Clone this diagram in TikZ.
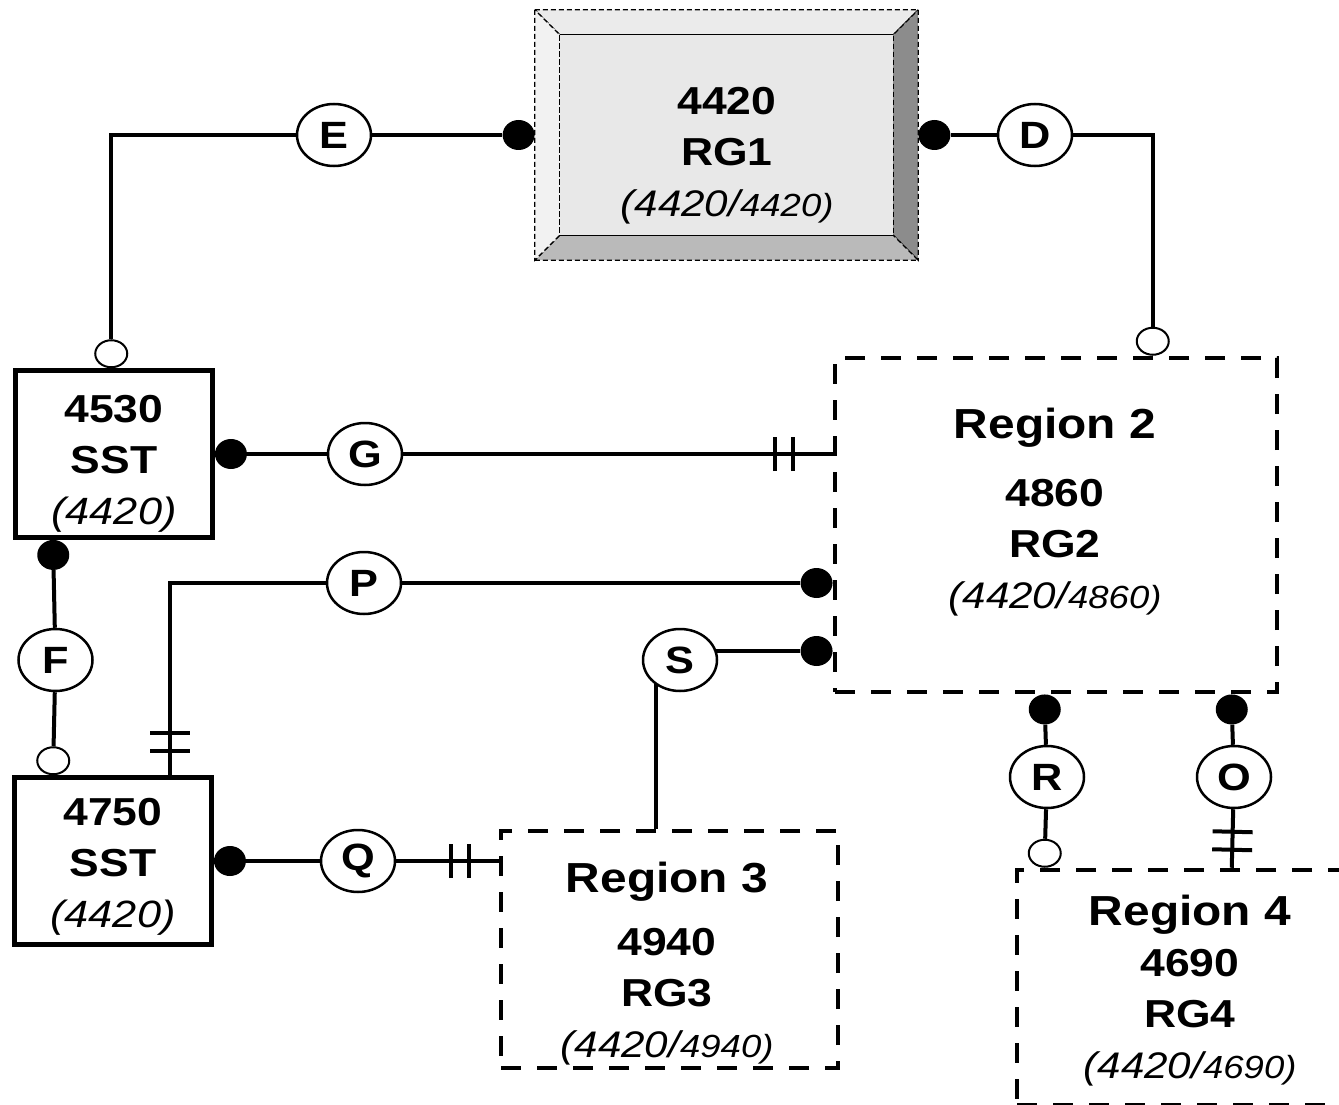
\documentclass[tikz,border=0pt]{standalone}
\usepackage{fontspec}
\setmainfont{Liberation Sans}[FakeStretch=1.14]
\usetikzlibrary{shapes.geometric,calc,backgrounds,decorations.markings}

\newcommand{\rgpair}[1]{{\mdseries\itshape\fontsize{37}{51}\selectfont(4420/{\fontsize{32}{51}\selectfont#1)}}}

\begin{document}
\begin{tikzpicture}[
    x=1pt, y=-1pt,
    link/.style={line width=4pt},
    bars/.style n args={3}{postaction={decorate, decoration={markings,
        mark=at position -#1 with {\draw[line width=4pt] (0pt,-#3) -- (0pt,#3);},
        mark=at position -#2 with {\draw[line width=4pt] (0pt,-#3) -- (0pt,#3);}}}},
    sstbox/.style={rectangle, draw, line width=4.5pt, minimum width=197, minimum height=167, inner sep=0},
    regionbox/.style={rectangle, draw, line width=4.5pt, dash pattern=on 20pt off 16pt},
    regiontext/.style={anchor=north, inner sep=0, align=center, font=\fontsize{39}{51}\selectfont\bfseries},
    bevelbox/.style={rectangle, minimum width=383, minimum height=250, inner sep=0},
    bevel/.style={draw, line width=1.2pt, dash pattern=on 5pt off 3pt},
    tag/.style={ellipse, draw, line width=2.5pt, fill=white, minimum width=74, minimum height=62, inner sep=0, font=\fontsize{38}{40}\selectfont\bfseries},
    dot/.style={ellipse, fill=black, minimum width=32, minimum height=30, inner sep=0},
    hollow/.style={ellipse, draw, line width=2pt, fill=white, minimum width=32, minimum height=27, inner sep=0}
]
\useasboundingbox (0,0) rectangle (1339,1105);

% Nodes
\node[bevelbox] (rg1) at (726.5,135) {};
\coordinate (in1) at ($(rg1.north west)+(25,25)$);
\coordinate (in2) at ($(rg1.north east)+(-25,25)$);
\coordinate (in3) at ($(rg1.south east)+(-25,-25)$);
\coordinate (in4) at ($(rg1.south west)+(25,-25)$);
\filldraw[bevel, fill=black!8] (rg1.north west) -- (rg1.north east) -- (in2) -- (in1) -- cycle;
\filldraw[bevel, fill=black!45] (rg1.north east) -- (rg1.south east) -- (in3) -- (in2) -- cycle;
\filldraw[bevel, fill=black!27] (rg1.south west) -- (rg1.south east) -- (in3) -- (in4) -- cycle;
\filldraw[bevel, fill=black!5] (rg1.north west) -- (rg1.south west) -- (in4) -- (in1) -- cycle;
\filldraw[bevel, fill=black!9] (in1) rectangle (in3);
\node[regiontext] (rg1txt) at (727,87) {4420\\RG1\\\rgpair{4420}};

\node[sstbox] (s1) at (114,454) {};
\node[regiontext] (s1txt) at (114,395) {4530\\SST\\{\mdseries\itshape\fontsize{38}{51}\selectfont(4420)}};
\node[sstbox] (s2) at (113,861) {};
\node[regiontext] (s2txt) at (113,798) {4750\\SST\\{\mdseries\itshape\fontsize{38}{51}\selectfont(4420)}};

\node[regionbox, minimum width=442, minimum height=334] (r2) at (1056,525) {};
\node[regiontext] (r2txt) at (1055,408) {{\fontsize{42}{51}\selectfont Region 2}\\[17pt]4860\\RG2\\\rgpair{4860}};
\node[regionbox, minimum width=337, minimum height=237] (r3) at (669.5,949.5) {};
\node[regiontext] (r3txt) at (667,862) {{\fontsize{42}{51}\selectfont Region 3}\\[12pt]4940\\RG3\\\rgpair{4940}};
\node[regionbox, minimum width=336, minimum height=235] (r4) at (1185,987.5) {};
\node[regiontext] (r4txt) at (1190,895) {{\fontsize{42}{51}\selectfont Region 4}\\4690\\RG4\\\rgpair{4690}};

% Ends
\node[dot, anchor=east] (edot) at (rg1.west) {};
\node[hollow, anchor=south] (eend) at ([xshift=98pt]s1.north west) {};
\node[dot, anchor=west] (ddot) at (rg1.east) {};
\node[hollow, anchor=south] (dend) at ([xshift=320pt]r2.north west) {};
\node[dot, anchor=west] (gdot) at (s1.east) {};
\coordinate (gend) at ([yshift=71pt]r2.west);
\node[dot, anchor=north] (fdot) at ([xshift=40pt]s1.south west) {};
\node[hollow, anchor=south] (fend) at ([xshift=41pt]s2.north west) {};
\node[dot, anchor=east] (pdot) at ([yshift=-58pt]r2.west) {};
\coordinate (pend) at ([xshift=158pt]s2.north west);
\node[dot, anchor=east] (sdot) at ([yshift=-126pt]r2.west) {};
\coordinate (send) at ([xshift=157pt]r3.north west);
\node[dot, anchor=west] (qdot) at (s2.east) {};
\coordinate (qend) at ([yshift=88.5pt]r3.west);
\node[dot, anchor=north] (rdot) at ([xshift=212pt]r2.south west) {};
\node[hollow, anchor=south] (rend) at ([xshift=30pt]r4.north west) {};
\node[dot, anchor=north] (odot) at ([xshift=399pt]r2.south west) {};
\coordinate (oend) at ([xshift=217pt]r4.north west);

% Relationship tags
\node[tag] (e) at (334,135) {E};
\node[tag] (d) at (1035,135) {D};
\node[tag] (g) at (365,454) {G};
\node[tag] (f) at (55.5,660) {F};
\node[tag] (p) at (364,583) {P};
\node[tag] (s) at (680,660) {S};
\node[tag] (q) at (358,861) {Q};
\node[tag] (r) at (1047,777) {R};
\node[tag] (o) at (1234,777) {O};

% Arrows
\begin{scope}[on background layer]
\draw[link] (edot) -- (e) -| (eend);
\draw[link] (ddot) -- (d) -| (dend);
\draw[link] (gdot) -- (g);
\draw[link, bars={40pt}{58pt}{17pt}] (g) -- (gend);
\draw[link] (fdot) -- (f) -- (fend);
\draw[link] (pdot) -- (p);
\draw[link, bars={24pt}{42pt}{20pt}] (p) -| (pend);
\draw[link] (send) |- (sdot);
\draw[link] (qdot) -- (q);
\draw[link, bars={30pt}{48pt}{17pt}] (q) -- (qend);
\draw[link] (rdot) -- (r) -- (rend);
\draw[link] (odot) -- (o);
\draw[link, bars={18pt}{36pt}{20pt}] (o) -- (oend);
\end{scope}

\end{tikzpicture}
\end{document}
